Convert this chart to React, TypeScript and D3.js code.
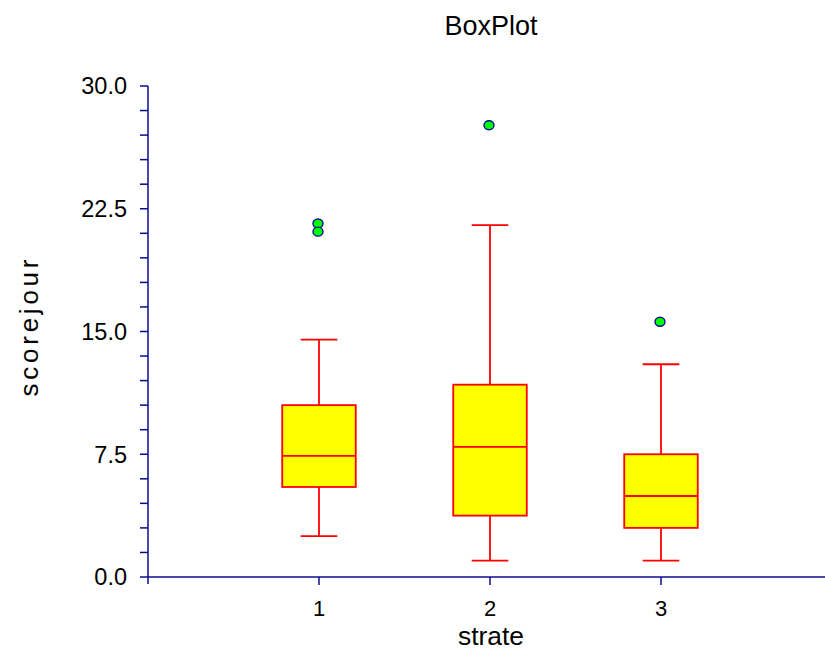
import React from "react";
import * as d3 from "d3";

const categories = ["1", "2", "3"];
const lowerWhisker = [2.5, 1.0, 1.0];
const q1 = [5.5, 3.75, 3.0];
const median = [7.4, 7.95, 4.95];
const q3 = [10.5, 11.75, 7.5];
const upperWhisker = [14.5, 21.5, 13.0];
const outliers = [[21.6, 21.1], [27.6], [15.6]];
const yTicks = [0, 7.5, 15, 22.5, 30];

const W = 825;
const H = 652;
const AXIS = "#0a0a90";

export default function App() {
  const x = d3.scaleLinear().domain([0, 4]).range([148, 832]);
  const y = d3.scaleLinear().domain([0, 30]).range([577, 86]);
  const minor = d3.range(0, 30.0001, 1.5);
  const halfBox = 0.215;
  const halfCap = 0.107;

  return (
    <svg width={W} height={H} style={{ display: "block", position: "absolute", left: 0, top: 0 }}
      fontFamily="'Liberation Sans', Arial, sans-serif">
      <rect x={0} y={0} width={W} height={H} fill="#fff" />
      <text x={491} y={35} fontSize={28} textAnchor="middle" textLength={93} lengthAdjust="spacingAndGlyphs" fill="#000">BoxPlot</text>

      {/* Y axis */}
      <line x1={x(0)} x2={x(0)} y1={y(30)} y2={y(0) + 7} stroke={AXIS} strokeWidth={1.5} />
      {minor.map((v, i) => (
        <line key={"m" + i} x1={x(0) - 8} x2={x(0)} y1={y(v)} y2={y(v)} stroke={AXIS} strokeWidth={1.5} />
      ))}
      {yTicks.map((v) => (
        <text key={"yt" + v} x={127} y={y(v)} dy="0.36em" fontSize={23.5} textAnchor="end" fill="#000">{v.toFixed(1)}</text>
      ))}
      <text transform={`translate(38, 328) rotate(-90)`} fontSize={26} textAnchor="middle" textLength={137} lengthAdjust="spacing" fill="#000">scorejour</text>

      {/* X axis */}
      <line x1={x(0)} x2={x(4)} y1={y(0)} y2={y(0)} stroke={AXIS} strokeWidth={1.5} />
      {[1, 2, 3].map((v) => (
        <line key={"xt" + v} x1={x(v)} x2={x(v)} y1={y(0)} y2={y(0) + 8} stroke={AXIS} strokeWidth={1.5} />
      ))}
      {categories.map((c, i) => (
        <text key={"xl" + c} x={x(i + 1)} y={616} fontSize={22} textAnchor="middle" fill="#000">{c}</text>
      ))}
      <text x={491} y={645} fontSize={26} textAnchor="middle" textLength={66} lengthAdjust="spacingAndGlyphs" fill="#000">strate</text>

      {/* Boxes */}
      {categories.map((c, i) => {
        const cx = x(i + 1);
        const bl = x(i + 1 - halfBox);
        const br = x(i + 1 + halfBox);
        const cl = x(i + 1 - halfCap);
        const cr = x(i + 1 + halfCap);
        return (
          <g key={"b" + c} stroke="#ff0000" strokeWidth={1.8}>
            <line x1={cx} x2={cx} y1={y(upperWhisker[i])} y2={y(q3[i])} />
            <line x1={cx} x2={cx} y1={y(q1[i])} y2={y(lowerWhisker[i])} />
            <line x1={cl} x2={cr} y1={y(upperWhisker[i])} y2={y(upperWhisker[i])} />
            <line x1={cl} x2={cr} y1={y(lowerWhisker[i])} y2={y(lowerWhisker[i])} />
            <rect x={bl} y={y(q3[i])} width={br - bl} height={y(q1[i]) - y(q3[i])} fill="#ffff00" />
            <line x1={bl} x2={br} y1={y(median[i])} y2={y(median[i])} />
            {outliers[i].map((o, j) => (
              <ellipse key={j} cx={cx - 1} cy={y(o)} rx={5} ry={4.5} fill="#00ff00" stroke="#0a0a90" strokeWidth={1.4} />
            ))}
          </g>
        );
      })}
    </svg>
  );
}
